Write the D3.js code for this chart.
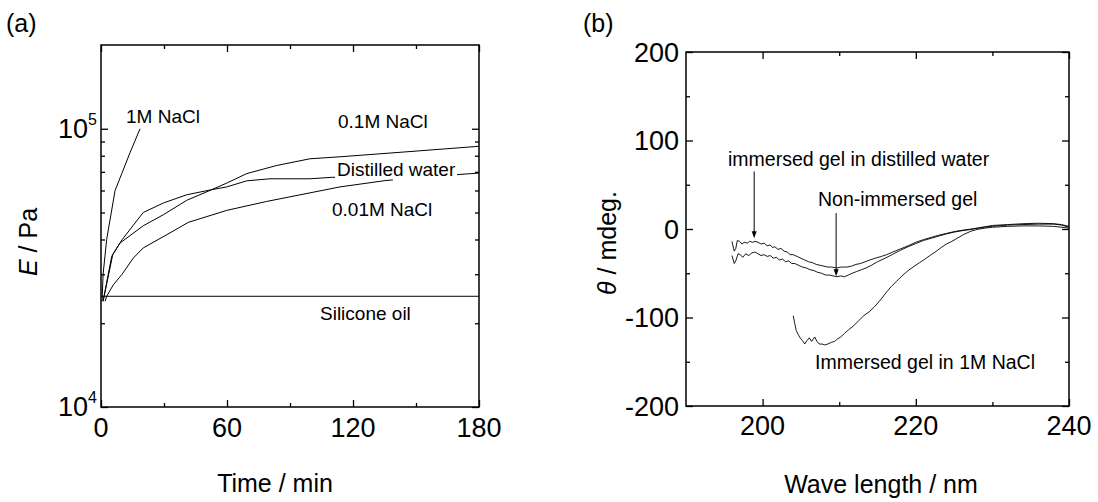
<!DOCTYPE html>
<html>
<head>
<meta charset="utf-8">
<script src="https://cdn.jsdelivr.net/npm/d3@7"></script>
<style>
  body { margin: 0; background: #fff; }
  svg { display: block; font-family: "Liberation Sans", Arial, sans-serif; }
</style>
</head>
<body>
<svg id="chart" width="1098" height="502"></svg>
<script>
// ---- panel (a): E vs time, [min, Pa] ----
const timeMajor = [0, 60, 120, 180];
const timeMinor = [30, 90, 150];
const modMajor = [1e4, 1e5];
const modMinor = [2e4, 3e4, 4e4, 5e4, 6e4, 7e4, 8e4, 9e4];

const silicone = [[0, 2.5e4], [180, 2.5e4]];
const nacl1M = [[0.5, 2.4e4], [1, 3.0e4], [2.7, 4.0e4], [6.7, 6.0e4], [9.9, 6.9e4], [13.8, 8.2e4], [18.6, 1.0e5]];
const nacl01M = [[1, 2.4e4], [5.6, 3.53e4], [9, 3.88e4], [20.1, 4.48e4], [29.7, 4.91e4], [40.8, 5.53e4],
  [52.7, 6.04e4], [59.9, 6.38e4], [69.4, 6.9e4], [83.7, 7.38e4], [99.5, 7.8e4], [113.8, 7.93e4],
  [142.4, 8.23e4], [180, 8.65e4]];
const distilled = [[1, 2.4e4], [5.1, 3.48e4], [10, 3.99e4], [20.1, 5.0e4], [29.7, 5.41e4], [40.8, 5.79e4],
  [52.7, 6.04e4], [59.9, 6.18e4], [69.4, 6.5e4], [80.5, 6.61e4], [99.5, 6.61e4], [109.9, 6.69e4],
  [169.4, 6.84e4], [180, 6.93e4]];
const nacl001M = [[2, 2.4e4], [2.7, 2.5e4], [5.9, 2.75e4], [9.9, 2.99e4], [15.4, 3.43e4], [20.1, 3.73e4],
  [31.3, 4.16e4], [41.6, 4.61e4], [59.9, 5.09e4], [78.9, 5.48e4], [113.8, 6.18e4], [135.2, 6.51e4],
  [139, 6.55e4]];

// ---- panel (b): CD spectra, [nm, mdeg] ----
const waveMajor = [200, 220, 240];
const waveMinor = [210, 230];
const thetaMajor = [-200, -100, 0, 100, 200];
const thetaMinor = [-150, -50, 50, 150];

const cdDistilled = [[196.0, -14], [196.3, -25], [196.5, -22], [196.7, -13], [197.0, -14], [197.3, -17],
  [197.6, -15], [198.0, -16], [198.3, -14], [198.7, -15], [199.0, -14], [199.4, -15], [199.8, -17],
  [200.2, -16], [200.6, -19], [201.0, -18], [201.3, -21], [201.6, -20], [202.0, -23], [202.4, -22],
  [202.8, -25], [203.2, -26], [203.6, -29], [204.0, -29], [204.5, -31], [205.0, -33], [205.5, -35],
  [206.0, -37], [206.5, -38], [207.0, -40], [207.5, -41], [208.0, -42], [208.5, -43], [209.0, -43],
  [209.7, -44], [210.3, -43], [211.0, -43], [211.6, -42], [212.2, -40], [212.8, -39], [213.4, -37],
  [214.0, -35], [214.7, -33], [215.5, -31], [216.2, -29], [217, -26], [218, -22.5], [219, -19],
  [220, -15], [221, -12], [222, -9.5], [223, -7], [224, -5], [225, -3], [226, -1.5], [227, -0.3],
  [228, 1], [229, 2.5], [230, 4], [232, 5], [234, 6], [236, 6.5], [238, 6], [239, 5], [240, 3]];
const cdNonImmersed = [[196.0, -30], [196.3, -39], [196.5, -36], [196.8, -28], [197.1, -29], [197.4, -32],
  [197.8, -28], [198.2, -30], [198.6, -27], [199.0, -26], [199.4, -28], [199.8, -30], [200.2, -29],
  [200.6, -31], [201.0, -30], [201.4, -33], [201.8, -32], [202.2, -35], [202.6, -34], [203.0, -37],
  [203.4, -36], [203.8, -39], [204.2, -39], [204.7, -41], [205.2, -43], [205.7, -44], [206.2, -46],
  [206.7, -47], [207.2, -49], [207.7, -50], [208.2, -52], [208.7, -52], [209.2, -53], [209.7, -54],
  [210.2, -53], [210.7, -54], [211.2, -52], [211.7, -50], [212.3, -48], [212.9, -46], [213.5, -44],
  [214.2, -41], [215, -37], [216, -33], [217, -28.5], [218, -24], [219, -20], [220, -16.5], [221, -13],
  [222, -10.5], [223, -8], [224, -5.5], [225, -3.5], [226, -2], [227, -0.8], [228, 0.8], [229, 2],
  [230, 3], [232, 4.5], [234, 5], [236, 5.5], [238, 5.5], [239, 4.5], [240, 2]];
const cdNaCl = [[204.0, -98], [204.2, -107], [204.4, -115], [204.7, -120], [204.9, -123], [205.2, -126],
  [205.5, -130], [205.8, -126], [206.1, -123], [206.4, -127], [206.8, -122], [207.1, -127], [207.4, -130],
  [207.8, -130], [208.1, -131], [208.5, -130], [209.0, -128], [209.4, -127], [209.8, -124], [210.2, -122],
  [210.7, -118], [211.2, -114], [211.8, -110], [212.5, -104], [213.2, -98], [214, -93], [214.7, -87],
  [215.5, -79], [216.2, -71], [216.8, -65], [217.5, -59], [218.2, -53], [219, -47], [219.8, -42],
  [220.5, -38], [221.2, -34], [222, -29], [222.7, -25], [223.3, -21], [224, -17], [224.7, -14],
  [225.5, -10], [226.3, -6], [227.2, -2.5], [228, -0.5], [229, 1], [230, 2], [232, 3], [234, 3.5],
  [236, 3.5], [238, 3], [240, 1]];
// arrows: [wavelength, from, to]
const arrows = [[198.9, 65, -10.5], [209.6, 18, -53.5]];

const svg = d3.select("#chart");
const ink = "#000";

// scales
const xA = d3.scaleLinear().domain([0, 180]).range([101, 479]);
const yA = d3.scaleLog().domain([1e4, 2e5]).range([407, 45]);
const xB = d3.scaleLinear().domain([190, 240]).range([686, 1069]);
const yB = d3.scaleLinear().domain([-200, 200]).range([406, 52]);

function frame(x, y) {
  const [x0, x1] = x.range();
  const [y0, y1] = y.range();
  svg.append("rect")
    .attr("x", x0).attr("y", y1)
    .attr("width", x1 - x0).attr("height", y0 - y1)
    .attr("fill", "none").attr("stroke", ink).attr("stroke-width", 1.5);
}

function ticks(x, y, xVals, yVals, len) {
  const [x0, x1] = x.range();
  const [y0, y1] = y.range();
  const sets = [
    [d3.axisBottom(x).tickValues(xVals), `translate(0,${y0})`],
    [d3.axisTop(x).tickValues(xVals), `translate(0,${y1})`],
    [d3.axisLeft(y).tickValues(yVals), `translate(${x0},0)`],
    [d3.axisRight(y).tickValues(yVals), `translate(${x1},0)`]
  ];
  sets.forEach(([ax, tr]) => {
    svg.append("g").attr("transform", tr)
      .call(ax.tickSizeInner(-len).tickSizeOuter(0).tickFormat(""))
      .call(g => g.select(".domain").remove())
      .call(g => g.selectAll("line").attr("stroke", ink).attr("stroke-width", 1.3));
  });
}

function curve(x, y, data, width) {
  svg.append("path")
    .datum(data)
    .attr("fill", "none")
    .attr("stroke", ink)
    .attr("stroke-width", width || 1)
    .attr("stroke-linejoin", "round")
    .attr("d", d3.line().x(d => x(d[0])).y(d => y(d[1])));
}

function label(txt, x, y, size, bg) {
  const t = svg.append("text")
    .attr("x", x).attr("y", y)
    .attr("font-size", size)
    .attr("fill", ink)
    .text(txt);
  if (bg) {
    const b = t.node().getBBox();
    svg.insert("rect", () => t.node())
      .attr("x", b.x - 2).attr("y", y - size * 0.75)
      .attr("width", b.width + 3).attr("height", size * 0.75 + 2)
      .attr("fill", "#fff");
  }
  return t;
}

// ---------- panel (a) ----------
[silicone, nacl1M, nacl01M, distilled, nacl001M].forEach(d => curve(xA, yA, d));
frame(xA, yA);
ticks(xA, yA, timeMajor, modMajor, 7);
ticks(xA, yA, timeMinor, modMinor, 4);

svg.append("g").selectAll("text")
  .data(timeMajor).join("text")
  .attr("x", d => xA(d)).attr("y", 437)
  .attr("text-anchor", "middle").attr("font-size", 27)
  .text(d => d);

const expLabels = svg.append("g").selectAll("text")
  .data(modMajor).join("text")
  .attr("x", 97).attr("y", d => yA(d) + 9)
  .attr("text-anchor", "end").attr("font-size", 27);
expLabels.append("tspan").text("10");
expLabels.append("tspan").attr("font-size", 16).attr("dy", -13)
  .text(d => Math.round(Math.log10(d)));

label("1M NaCl", 126, 123, 19);
label("0.1M NaCl", 338, 128, 19);
label("Distilled water", 337, 176, 19, true);
label("0.01M NaCl", 332, 216, 19);
label("Silicone oil", 320, 320, 19);

svg.append("text").attr("x", 275).attr("y", 492)
  .attr("text-anchor", "middle").attr("font-size", 25).text("Time / min");
const yTitleA = svg.append("text")
  .attr("transform", "translate(37,242) rotate(-90)")
  .attr("text-anchor", "middle").attr("font-size", 25);
yTitleA.append("tspan").attr("font-style", "italic").text("E");
yTitleA.append("tspan").text(" / Pa");

svg.append("text").attr("x", 6).attr("y", 32).attr("font-size", 25).text("(a)");

// ---------- panel (b) ----------
[cdDistilled, cdNonImmersed, cdNaCl].forEach(d => curve(xB, yB, d, 0.9));
frame(xB, yB);
ticks(xB, yB, waveMajor, thetaMajor, 7);
ticks(xB, yB, waveMinor, thetaMinor, 4);

svg.append("g").selectAll("text")
  .data(waveMajor).join("text")
  .attr("x", d => xB(d)).attr("y", 435)
  .attr("text-anchor", "middle").attr("font-size", 27)
  .text(d => d);
svg.append("g").selectAll("text")
  .data(thetaMajor).join("text")
  .attr("x", 679).attr("y", d => yB(d) + 9.5)
  .attr("text-anchor", "end").attr("font-size", 27)
  .text(d => d);

arrows.forEach(([w, from, to]) => {
  const ax = xB(w), ya = yB(from), yb = yB(to);
  svg.append("line")
    .attr("x1", ax).attr("x2", ax).attr("y1", ya).attr("y2", yb - 5)
    .attr("stroke", ink).attr("stroke-width", 1);
  svg.append("path")
    .attr("d", `M${ax - 2.5},${yb - 7}L${ax + 2.5},${yb - 7}L${ax},${yb}Z`)
    .attr("fill", ink);
});

label("immersed gel in distilled water", 728, 166, 19.5);
label("Non-immersed gel", 818, 206, 19.5);
label("Immersed gel in 1M NaCl", 815, 369, 19.5);

svg.append("text").attr("x", 881).attr("y", 493)
  .attr("text-anchor", "middle").attr("font-size", 25).text("Wave length / nm");
const yTitleB = svg.append("text")
  .attr("transform", "translate(616,243) rotate(-90)")
  .attr("text-anchor", "middle").attr("font-size", 25);
yTitleB.append("tspan").attr("font-style", "italic").text("θ");
yTitleB.append("tspan").text(" / mdeg.");

svg.append("text").attr("x", 583).attr("y", 32).attr("font-size", 25).text("(b)");
</script>
</body>
</html>
